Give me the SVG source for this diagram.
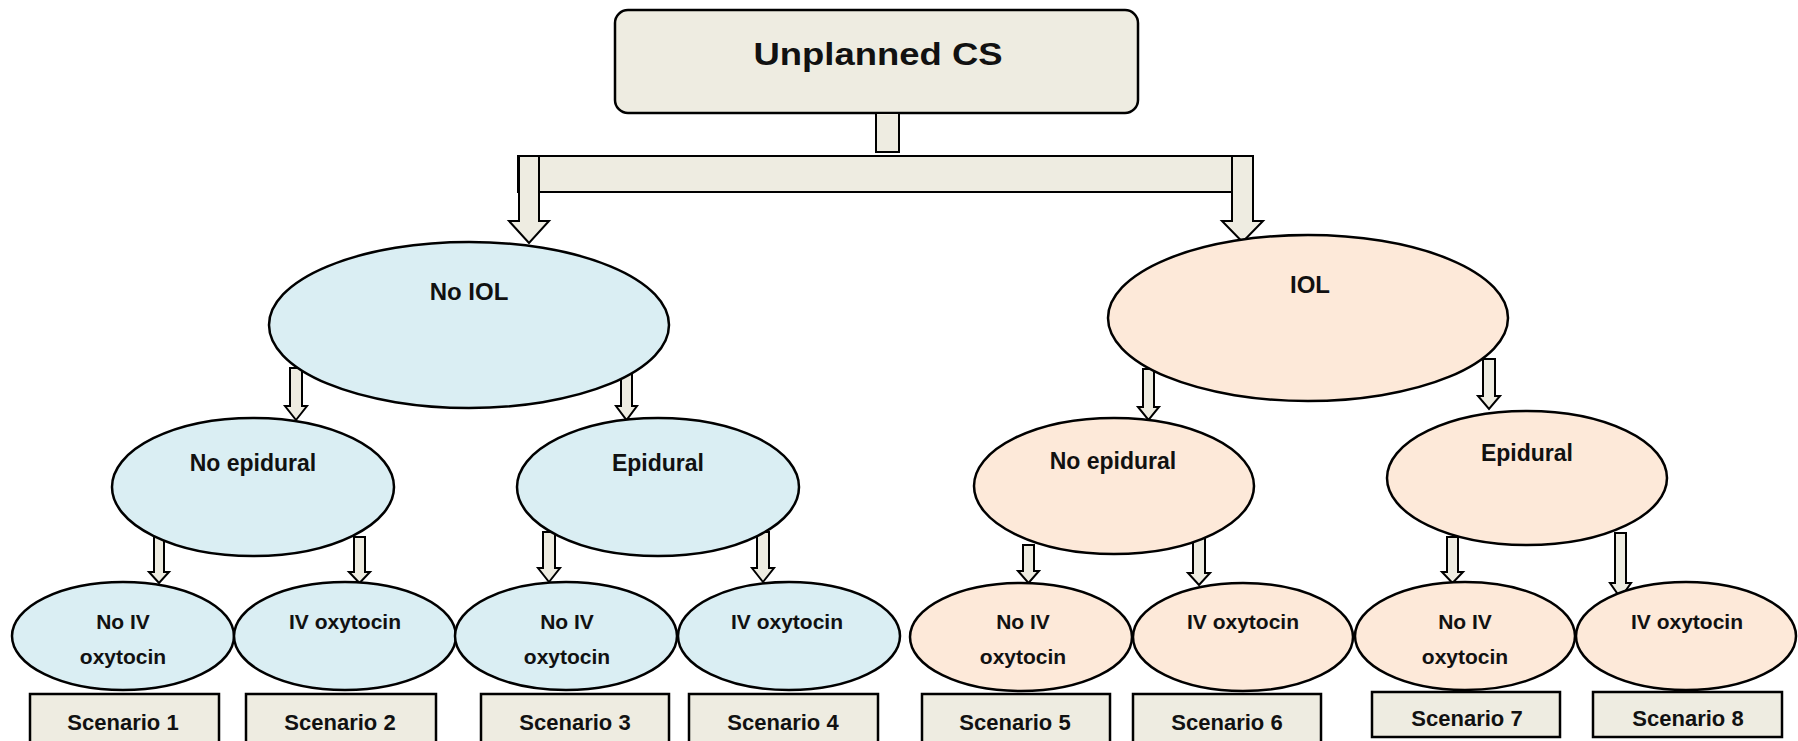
<svg xmlns="http://www.w3.org/2000/svg" width="1798" height="741" viewBox="0 0 1798 741">
  <style>
    .lbl { font-family: "Liberation Sans", Arial, sans-serif; font-weight: bold; fill: #111; text-anchor: middle; }
    .blue { fill: #daeef3; stroke: #000; stroke-width: 2.5; }
    .peach { fill: #fde9d9; stroke: #000; stroke-width: 2.5; }
    .tan { fill: #eeece1; stroke: #000; stroke-width: 2.5; }
    .arrow { fill: #eeece1; stroke: #000; stroke-width: 2; stroke-linejoin: miter; }
  </style>
  <rect width="1798" height="741" fill="#fff"/>

  <!-- root -->
  <g id="root">
    <rect class="tan" x="615" y="10" width="523" height="103" rx="13"/>
    <text class="lbl" x="878" y="65" font-size="32" textLength="249" lengthAdjust="spacingAndGlyphs">Unplanned CS</text>
  </g>

  <!-- connectors -->
  <g id="connectors">
    <rect class="arrow" x="876" y="113" width="23" height="39"/>
    <rect class="arrow" x="518" y="156" width="735" height="36"/>
    <!-- block arrows: shaft then head -->
    <path class="arrow" d="M519,156 H539 V221 H549 L529,243 L509,221 H519 Z"/>
    <path class="arrow" d="M1232,156 H1253 V221 H1263 L1242.5,242 L1222,221 H1232 Z"/>

    <path class="arrow" d="M290,368 H302 V406 H307 L296,420 L285,406 H290 Z"/>
    <path class="arrow" d="M621,369 H632 V406 H637 L626.5,420 L616,406 H621 Z"/>
    <path class="arrow" d="M1143,369 H1154 V407 H1159 L1148.5,420 L1138,407 H1143 Z"/>
    <path class="arrow" d="M1483,359 H1495 V396 H1500 L1489,409 L1478,396 H1483 Z"/>

    <path class="arrow" d="M154,537 H164 V572 H169 L159,583 L149,572 H154 Z"/>
    <path class="arrow" d="M354,537 H365 V572 H370 L359.5,583 L349,572 H354 Z"/>
    <path class="arrow" d="M543,532 H555 V568 H560 L549,582 L538,568 H543 Z"/>
    <path class="arrow" d="M757,532 H769 V568 H774 L763,582 L752,568 H757 Z"/>
    <path class="arrow" d="M1023,545 H1034 V571 H1039 L1028.5,583 L1018,571 H1023 Z"/>
    <path class="arrow" d="M1193,537 H1205 V573 H1210 L1199,585 L1188,573 H1193 Z"/>
    <path class="arrow" d="M1447,537 H1458 V572 H1463 L1452.5,583 L1442,572 H1447 Z"/>
    <path class="arrow" d="M1615,533 H1626 V583 H1631 L1620.5,598 L1610,583 H1615 Z"/>
  </g>

  <!-- first split -->
  <g id="no-iol">
    <ellipse class="blue" cx="469" cy="325" rx="200" ry="83"/>
    <text class="lbl" x="469" y="300" font-size="24">No IOL</text>
  </g>
  <g id="iol">
    <ellipse class="peach" cx="1308" cy="318" rx="200" ry="83"/>
    <text class="lbl" x="1310" y="293" font-size="24">IOL</text>
  </g>

  <!-- second split -->
  <g id="no-iol-no-epidural">
    <ellipse class="blue" cx="253" cy="487" rx="141" ry="69"/>
    <text class="lbl" x="253" y="471" font-size="23">No epidural</text>
  </g>
  <g id="no-iol-epidural">
    <ellipse class="blue" cx="658" cy="487" rx="141" ry="69"/>
    <text class="lbl" x="658" y="471" font-size="23">Epidural</text>
  </g>
  <g id="iol-no-epidural">
    <ellipse class="peach" cx="1114" cy="486" rx="140" ry="68"/>
    <text class="lbl" x="1113" y="469" font-size="23">No epidural</text>
  </g>
  <g id="iol-epidural">
    <ellipse class="peach" cx="1527" cy="478" rx="140" ry="67"/>
    <text class="lbl" x="1527" y="461" font-size="23">Epidural</text>
  </g>

  <!-- oxytocin leaves -->
  <g id="leaf-1">
    <ellipse class="blue" cx="123" cy="636" rx="111" ry="54"/>
    <text class="lbl" x="123" y="629" font-size="21">No IV</text>
    <text class="lbl" x="123" y="664" font-size="21">oxytocin</text>
  </g>
  <g id="leaf-2">
    <ellipse class="blue" cx="345" cy="636" rx="111" ry="54"/>
    <text class="lbl" x="345" y="629" font-size="21">IV oxytocin</text>
  </g>
  <g id="leaf-3">
    <ellipse class="blue" cx="566" cy="636" rx="111" ry="54"/>
    <text class="lbl" x="567" y="629" font-size="21">No IV</text>
    <text class="lbl" x="567" y="664" font-size="21">oxytocin</text>
  </g>
  <g id="leaf-4">
    <ellipse class="blue" cx="789" cy="636" rx="111" ry="54"/>
    <text class="lbl" x="787" y="629" font-size="21">IV oxytocin</text>
  </g>
  <g id="leaf-5">
    <ellipse class="peach" cx="1021" cy="637" rx="111" ry="54"/>
    <text class="lbl" x="1023" y="629" font-size="21">No IV</text>
    <text class="lbl" x="1023" y="664" font-size="21">oxytocin</text>
  </g>
  <g id="leaf-6">
    <ellipse class="peach" cx="1243" cy="637" rx="110" ry="54"/>
    <text class="lbl" x="1243" y="629" font-size="21">IV oxytocin</text>
  </g>
  <g id="leaf-7">
    <ellipse class="peach" cx="1465" cy="636" rx="110" ry="54"/>
    <text class="lbl" x="1465" y="629" font-size="21">No IV</text>
    <text class="lbl" x="1465" y="664" font-size="21">oxytocin</text>
  </g>
  <g id="leaf-8">
    <ellipse class="peach" cx="1686" cy="636" rx="110" ry="54"/>
    <text class="lbl" x="1687" y="629" font-size="21">IV oxytocin</text>
  </g>

  <!-- scenario labels -->
  <g id="scenario-1">
    <rect class="tan" x="30" y="694" width="189" height="50"/>
    <text class="lbl" x="123" y="730" font-size="22">Scenario 1</text>
  </g>
  <g id="scenario-2">
    <rect class="tan" x="246" y="694" width="190" height="50"/>
    <text class="lbl" x="340" y="730" font-size="22">Scenario 2</text>
  </g>
  <g id="scenario-3">
    <rect class="tan" x="481" y="694" width="188" height="50"/>
    <text class="lbl" x="575" y="730" font-size="22">Scenario 3</text>
  </g>
  <g id="scenario-4">
    <rect class="tan" x="689" y="694" width="189" height="50"/>
    <text class="lbl" x="783" y="730" font-size="22">Scenario 4</text>
  </g>
  <g id="scenario-5">
    <rect class="tan" x="922" y="694" width="188" height="50"/>
    <text class="lbl" x="1015" y="730" font-size="22">Scenario 5</text>
  </g>
  <g id="scenario-6">
    <rect class="tan" x="1133" y="694" width="188" height="50"/>
    <text class="lbl" x="1227" y="730" font-size="22">Scenario 6</text>
  </g>
  <g id="scenario-7">
    <rect class="tan" x="1372" y="692" width="188" height="45"/>
    <text class="lbl" x="1467" y="726" font-size="22">Scenario 7</text>
  </g>
  <g id="scenario-8">
    <rect class="tan" x="1593" y="692" width="189" height="45"/>
    <text class="lbl" x="1688" y="726" font-size="22">Scenario 8</text>
  </g>
</svg>
